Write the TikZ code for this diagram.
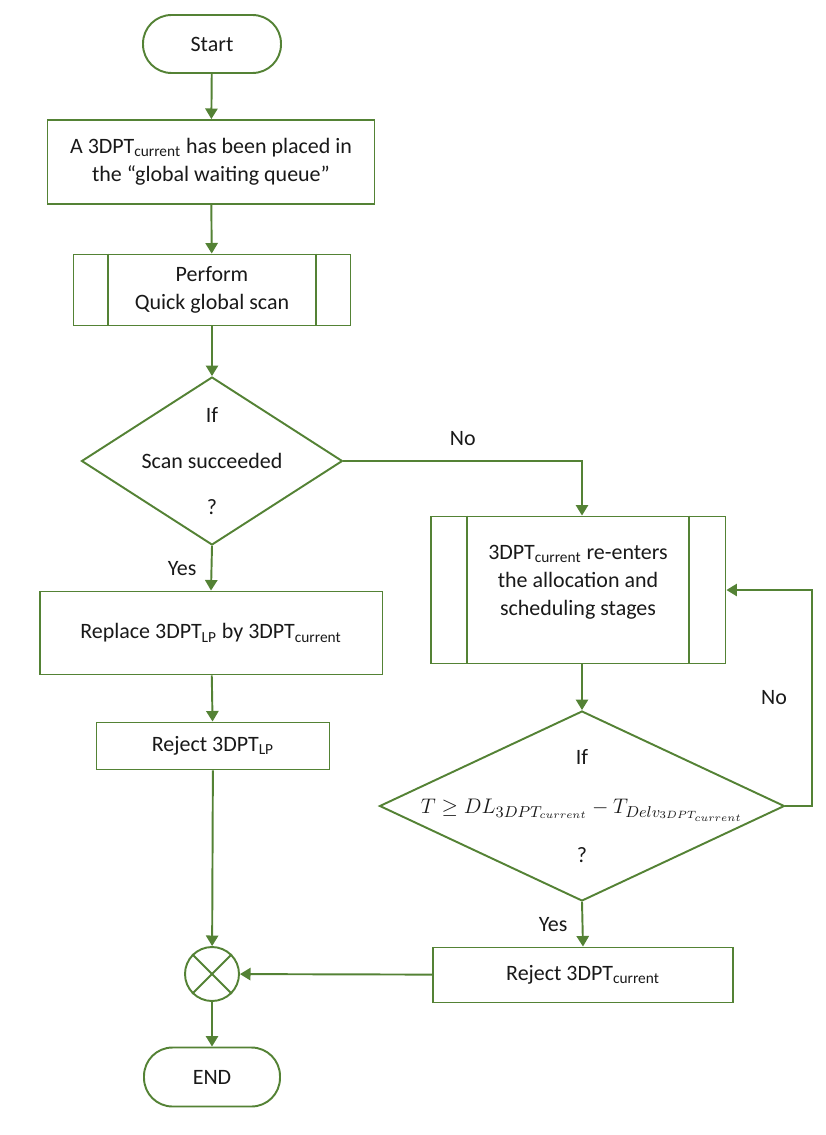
\documentclass[tikz,border=0pt]{standalone}
\usepackage{fontspec}
\setmainfont{Carlito}
\usetikzlibrary{calc,arrows.meta,shapes.geometric}
\definecolor{flowgreen}{RGB}{84,130,53}
\def\cur{3DPT\textsubscript{current}}
\def\lp{3DPT\textsubscript{LP}}

\begin{document}
\begin{tikzpicture}[x=0.02cm, y=-0.02cm,
		font=\fontsize{12.5}{16}\selectfont, text=black!90,
		every path/.style={draw=flowgreen, line width=1.1pt},
		terminal/.style={draw, rectangle, rounded corners=0.57cm},
		process/.style={draw, rectangle},
		decision/.style={draw, diamond, inner sep=0pt},
		junction/.style={draw, circle, minimum size=1.08cm, inner sep=0pt},
		flow/.style={-{Triangle[width=7pt,length=6pt]}},
		answer/.style={inner sep=0pt}]
			%%%%% START %%%%%
			
			\useasboundingbox[draw=none] (0, 0) rectangle (825, 1135);
			
			% left column
			\node[terminal, minimum width=2.76cm, minimum height=1.16cm] (start) at (212, 44) {Start};
			\node[process, minimum width=6.54cm, minimum height=1.68cm, align=center] (wait) at (211, 162) {A \cur{} has been placed in\\the “global waiting queue”};
			\node[process, minimum width=5.54cm, minimum height=1.42cm, align=center] (scan) at (212, 290) {Perform\\Quick global scan};
			\draw ($(scan.north west)+(0.7cm,0)$) -- ($(scan.south west)+(0.7cm,0)$);
			\draw ($(scan.north east)-(0.7cm,0)$) -- ($(scan.south east)-(0.7cm,0)$);
			
			\node[decision, minimum width=5.22cm, minimum height=3.36cm] (ok) at (212, 461) {};
			\node[align=center] (oktext) at (ok) {If\\[10pt]Scan succeeded\\[10pt]?};
			
			\node[process, minimum width=6.86cm, minimum height=1.66cm] (replace) at (211, 633) {Replace \lp{} by \cur};
			\node[process, minimum width=4.66cm, minimum height=0.94cm] (droplp) at (213, 746) {Reject \lp};
			
			\node[junction] (merge) at (212, 974) {};
			\draw (merge.45) -- (merge.225);
			\draw (merge.135) -- (merge.315);
			\node[terminal, minimum width=2.72cm, minimum height=1.18cm] (stop) at (212, 1077) {END};
			
			% right column
			\node[process, minimum width=5.9cm, minimum height=2.94cm] (reenter) at (578, 590) {};
			\node[align=center] (reentertext) at (578, 582) {\cur{} re-enters\\the allocation and\\scheduling stages};
			\draw ($(reenter.north west)+(0.74cm,0)$) -- ($(reenter.south west)+(0.74cm,0)$);
			\draw ($(reenter.north east)-(0.74cm,0)$) -- ($(reenter.south east)-(0.74cm,0)$);
			
			\node[decision, minimum width=8.1cm, minimum height=3.8cm] (late) at (582, 806) {};
			\node[align=center] (latetext) at (late) {If\\[12pt]$T \geq DL_{3DPT_{current}} - T_{Delv_{3DPT_{current}}}$\\[12pt]?};
			
			\node[process, minimum width=6.0cm, minimum height=1.1cm] (dropcur) at (583, 975) {Reject \cur};
			
			% connectors
			\draw[flow] (start) -- (wait);
			\draw[flow] (wait) -- (scan);
			\draw[flow] (scan) -- (ok);
			\draw[flow] (ok.south) -- node[answer, left=8pt] (yes1) {Yes} (replace.north);
			\draw[flow] (ok.east) -- node[answer, above=8pt, pos=0.5] (no1) {No} (ok.east -| late.north) -- (reenter.north -| late.north);
			\draw[flow] (replace) -- (droplp);
			\draw[flow] (droplp) -- (merge);
			\draw[flow] (reenter.south -| late.north) -- (late.north);
			\draw[flow] (late.east) -- ++(27, 0) |- node[answer, pos=0.25, left=14pt] (no2) {No} (reenter.east);
			\draw[flow] (late.south) -- node[answer, left=8pt] (yes2) {Yes} (dropcur.north);
			\draw[flow] (dropcur) -- (merge);
			\draw[flow] (merge) -- (stop);
			
			%%%%% END %%%%%
		\end{tikzpicture}
\end{document}
